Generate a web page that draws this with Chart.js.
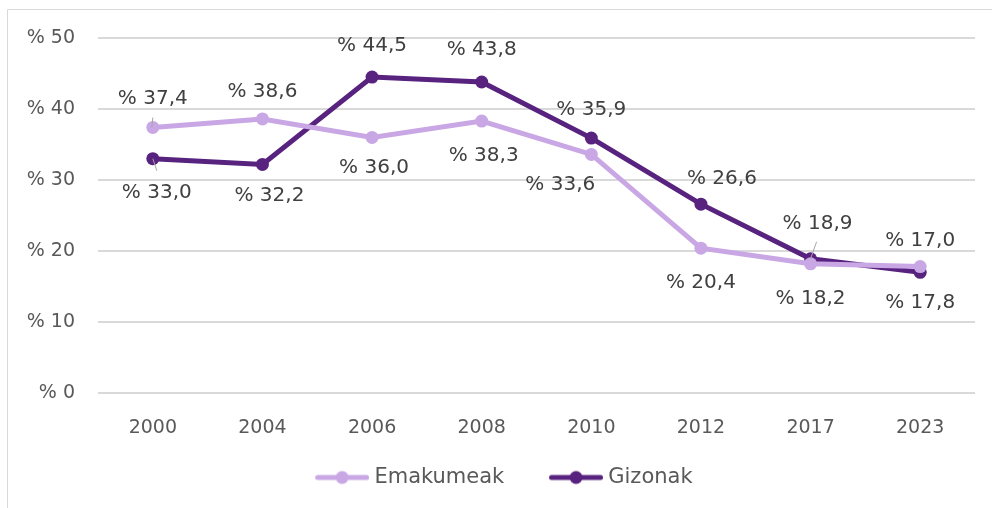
<!DOCTYPE html>
<html>
<head>
<meta charset="utf-8">
<script src="https://cdn.jsdelivr.net/npm/chart.js@4"></script>
<style>
html,body{margin:0;padding:0;background:#fff;}
#wrap{position:relative;width:992px;height:508px;}
</style>
</head>
<body>
<div id="wrap"><canvas id="c" width="992" height="508"></canvas></div>
<script>
const categories = ['2000','2004','2006','2008','2010','2012','2017','2023'];
const emakumeak = [37.4, 38.6, 36.0, 38.3, 33.6, 20.4, 18.2, 17.8];
const gizonak   = [33.0, 32.2, 44.5, 43.8, 35.9, 26.6, 18.9, 17.0];
const seriesNames = ['Emakumeak', 'Gizonak'];
const yTicks = [0, 10, 20, 30, 40, 50];

const FONT = "'DejaVu Sans', sans-serif";
const LIGHT = '#C9A7E4';
const DARK = '#58227F';

// label offsets (style, px) relative to each point
const labelOffsets = [
  [[0,-29],[0,-27],[2,30],[2,35],[-31,30],[0,35],[0,35],[0,36]],
  [[4,34],[7,31],[0,-31],[0,-32],[0,-28],[21,-25],[7,-35],[0,-32]]
];
const leaders = [
  {0:[[0,-10],[-1,0]]},
  {0:[[0,0],[4,12]], 6:[[0,0],[6,-17]]}
];

// legend icon: transparent lead-in + line with a dot (width 55 visible)
const LEG_W = 81.5;
function legendIcon(color){
  const blank = 37.5, vis = 55;
  const cv = document.createElement('canvas');
  cv.width = blank + vis; cv.height = 16;
  const g = cv.getContext('2d');
  g.strokeStyle = color; g.lineWidth = 5; g.lineCap = 'round';
  g.beginPath(); g.moveTo(blank + 3, 8); g.lineTo(blank + vis - 3, 8); g.stroke();
  g.fillStyle = color; g.beginPath(); g.arc(blank + vis / 2, 8, 6.5, 0, Math.PI * 2); g.fill();
  return cv;
}

const labelPlugin = {
  id: 'valueLabels',
  afterDatasetsDraw(chart){
    const ctx = chart.ctx;
    ctx.save();
    chart.data.datasets.forEach((ds, di) => {
      const meta = chart.getDatasetMeta(di);
      const L = leaders[di];
      Object.keys(L).forEach(k => {
        const p = meta.data[+k];
        const seg = L[k];
        ctx.strokeStyle = '#a6a6a6'; ctx.lineWidth = 1;
        ctx.beginPath();
        ctx.moveTo(p.x + seg[0][0], p.y + seg[0][1]);
        ctx.lineTo(p.x + seg[1][0], p.y + seg[1][1]);
        ctx.stroke();
      });
    });
    ctx.font = '20px ' + FONT;
    ctx.fillStyle = '#404040';
    ctx.textAlign = 'center';
    ctx.textBaseline = 'middle';
    chart.data.datasets.forEach((ds, di) => {
      const meta = chart.getDatasetMeta(di);
      meta.data.forEach((p, i) => {
        const o = labelOffsets[di][i];
        const txt = '% ' + ds.data[i].toFixed(1).replace('.', ',');
        ctx.fillText(txt, p.x + o[0], p.y + o[1]);
      });
    });
    ctx.restore();
  }
};

const borderPlugin = {
  id: 'frame',
  beforeDraw(chart){
    const ctx = chart.ctx;
    ctx.save();
    ctx.fillStyle = '#fff';
    ctx.fillRect(0,0,chart.width,chart.height);
    ctx.strokeStyle = '#d9d9d9'; ctx.lineWidth = 1;
    ctx.beginPath();
    ctx.moveTo(7.5, chart.height + 5); ctx.lineTo(7.5, 9.5); ctx.lineTo(chart.width + 5, 9.5);
    ctx.stroke();
    ctx.restore();
  }
};

new Chart(document.getElementById('c'), {
  type: 'line',
  data: {
    labels: categories,
    datasets: [
      {label: seriesNames[0], data: emakumeak, borderColor: LIGHT, backgroundColor: LIGHT,
       borderWidth: 5, pointRadius: 6.5, pointHoverRadius: 6.5, pointStyle: 'circle', tension: 0,
       pointBorderWidth: 0},
      {label: seriesNames[1], data: gizonak, borderColor: DARK, backgroundColor: DARK,
       borderWidth: 5, pointRadius: 6.5, pointHoverRadius: 6.5, pointStyle: 'circle', tension: 0,
       pointBorderWidth: 0}
    ]
  },
  options: {
    responsive: false,
    animation: false,
    events: [],
    layout: {padding: {top: 38, right: 17, bottom: 10, left: 0}},
    scales: {
      x: {
        offset: true,
        grid: {display: false, drawTicks: false},
        border: {display: false},
        ticks: {color: '#595959', font: {family: FONT, size: 19}, padding: 24, maxRotation: 0},
        afterFit(s){ s.height = 62; }
      },
      y: {
        min: 0, max: 50,
        afterBuildTicks(s){ s.ticks = yTicks.map(v => ({value: v})); },
        grid: {color: '#d9d9d9', lineWidth: 2, drawTicks: false},
        border: {display: false},
        ticks: {color: '#595959', font: {family: FONT, size: 19}, padding: 23,
          callback: v => '% ' + v},
        afterFit(s){ s.width = 98; }
      }
    },
    plugins: {
      legend: {
        position: 'bottom',
        labels: {
          color: '#595959',
          font: {family: FONT, size: 21},
          usePointStyle: true,
          pointStyleWidth: LEG_W,
          boxHeight: 16,
          padding: 12,
          generateLabels(chart){
            return chart.data.datasets.map((ds, i) => ({
              text: ds.label,
              pointStyle: legendIcon(ds.borderColor),
              fillStyle: ds.borderColor,
              strokeStyle: ds.borderColor,
              lineWidth: 0,
              datasetIndex: i,
              hidden: false,
              fontColor: '#595959'
            }));
          }
        }
      },
      tooltip: {enabled: false}
    }
  },
  plugins: [borderPlugin, labelPlugin]
});
</script>
</body>
</html>
